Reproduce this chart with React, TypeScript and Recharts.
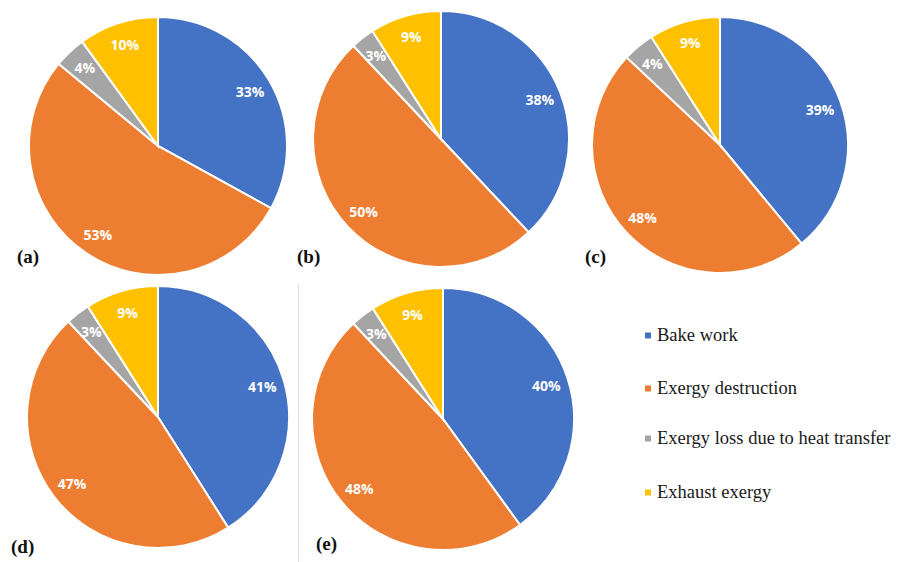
import React from 'react';
import { PieChart, Pie, Cell } from 'recharts';

// Exergy breakdown shares (%) for each case
const categories = [
  'Bake work',
  'Exergy destruction',
  'Exergy loss due to heat transfer',
  'Exhaust exergy',
];
const colors = ['#4472C4', '#ED7D31', '#A5A5A5', '#FFC000'];

const caseA = [33, 53, 4, 10];
const caseB = [38, 50, 3, 9];
const caseC = [39, 48, 4, 9];
const caseD = [41, 47, 3, 9];
const caseE = [40, 48, 3, 9];

const panelTags = ['(a)', '(b)', '(c)', '(d)', '(e)'];

const RADIAN = Math.PI / 180;

const renderLabel = (props: any) => {
  const { cx, cy, midAngle, outerRadius, value } = props;
  const r = outerRadius * 0.83;
  const x = cx + r * Math.cos(-midAngle * RADIAN);
  const y = cy + r * Math.sin(-midAngle * RADIAN);
  return (
    <text
      x={x}
      y={y}
      fill="#ffffff"
      textAnchor="middle"
      dominantBaseline="central"
      fontFamily="'Open Sans', sans-serif"
      fontWeight={700}
      fontSize={14}
    >
      {`${value}%`}
    </text>
  );
};

interface PanelProps {
  values: number[];
  cx: number;
  cy: number;
  r: number;
}

const SharePie: React.FC<PanelProps> = ({ values, cx, cy, r }) => {
  const size = 2 * r + 20;
  const data = categories.map((name, i) => ({ name, value: values[i] }));
  return (
    <div style={{ position: 'absolute', left: cx - size / 2, top: cy - size / 2 }}>
      <PieChart width={size} height={size} margin={{ top: 0, right: 0, bottom: 0, left: 0 }}>
        <Pie
          data={data}
          dataKey="value"
          nameKey="name"
          cx="50%"
          cy="50%"
          outerRadius={r}
          startAngle={90}
          endAngle={-270}
          stroke="#ffffff"
          strokeWidth={2}
          label={renderLabel}
          labelLine={false}
          isAnimationActive={false}
        >
          {data.map((d, i) => (
            <Cell key={d.name} fill={colors[i]} />
          ))}
        </Pie>
      </PieChart>
    </div>
  );
};

const panels = [
  { values: caseA, cx: 158, cy: 146, r: 129 },
  { values: caseB, cx: 441, cy: 139, r: 128 },
  { values: caseC, cx: 720, cy: 145, r: 128 },
  { values: caseD, cx: 158, cy: 417, r: 131 },
  { values: caseE, cx: 443, cy: 419, r: 131 },
];

const tagPos = [
  { left: 17, top: 257 },
  { left: 297, top: 257 },
  { left: 585, top: 257 },
  { left: 11, top: 547 },
  { left: 316, top: 544 },
];

const legendRows = [335, 388, 438, 492];

export default function App() {
  return (
    <div
      style={{
        position: 'relative',
        width: 898,
        height: 562,
        background: '#ffffff',
        overflow: 'hidden',
      }}
    >
      <style>{'body{margin:0}'}</style>
      {panels.map((p, i) => (
        <SharePie key={i} {...p} />
      ))}

      {/* thin divider between (d) and (e) */}
      <div
        style={{
          position: 'absolute',
          left: 298,
          top: 284,
          width: 1,
          height: 278,
          background: '#e3e3e3',
        }}
      />

      {panelTags.map((t, i) => (
        <div
          key={t}
          style={{
            position: 'absolute',
            left: tagPos[i].left,
            top: tagPos[i].top,
            transform: 'translateY(-50%)',
            fontFamily: "'Liberation Serif', 'Times New Roman', serif",
            fontWeight: 700,
            fontSize: 19,
            color: '#111',
          }}
        >
          {t}
        </div>
      ))}

      {categories.map((c, i) => (
        <div
          key={c}
          style={{
            position: 'absolute',
            left: 645,
            top: legendRows[i],
            transform: 'translateY(-50%)',
            display: 'flex',
            alignItems: 'center',
            fontFamily: "'Liberation Serif', 'Times New Roman', serif",
            fontSize: 18.5,
            color: '#1a1a1a',
            whiteSpace: 'nowrap',
          }}
        >
          <span
            style={{
              display: 'inline-block',
              width: 6,
              height: 6,
              background: colors[i],
              marginRight: 6,
            }}
          />
          {c}
        </div>
      ))}
    </div>
  );
}
